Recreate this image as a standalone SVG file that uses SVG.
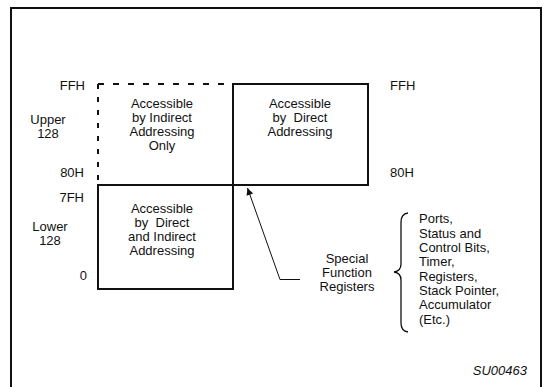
<svg xmlns="http://www.w3.org/2000/svg" width="544" height="387" viewBox="0 0 544 387">
<style>
text{font-family:"Liberation Sans",Arial,sans-serif;font-size:13px;fill:#111}
.c{text-anchor:middle}
.r{text-anchor:end}
.box{fill:none;stroke:#111;stroke-width:2}
.dash{fill:none;stroke:#111;stroke-width:2}
</style>
<defs>
<marker id="ah" viewBox="0 0 10 10" refX="10" refY="5" markerWidth="10" markerHeight="7" markerUnits="userSpaceOnUse" orient="auto">
<path d="M0,0 L10,5 L0,10 z" fill="#111"/>
</marker>
</defs>
<rect x="0" y="0" width="544" height="387" fill="#fff"/>
<rect x="11" y="8" width="530" height="400" fill="none" stroke="#111" stroke-width="2"/>

<g id="upper-indirect">
<path class="dash" d="M98,84 H233" stroke-dasharray="6 9"/>
<path class="dash" d="M98,84 V185" stroke-dasharray="5 8"/>
<text class="c" x="162" y="108">Accessible</text>
<text class="c" x="162" y="122">by Indirect</text>
<text class="c" x="162" y="136">Addressing</text>
<text class="c" x="162" y="150">Only</text>
</g>

<g id="upper-direct">
<rect class="box" x="233" y="84" width="135" height="101"/>
<text class="c" x="300" y="108">Accessible</text>
<text class="c" x="300" y="122" xml:space="preserve">by  Direct</text>
<text class="c" x="300" y="136">Addressing</text>
</g>

<g id="lower">
<rect class="box" x="98" y="185" width="135" height="104"/>
<text class="c" x="162" y="213">Accessible</text>
<text class="c" x="162" y="227" xml:space="preserve">by  Direct</text>
<text class="c" x="162" y="241">and Indirect</text>
<text class="c" x="162" y="255">Addressing</text>
</g>

<g id="left-labels">
<text class="r" x="85" y="90">FFH</text>
<text class="c" x="48" y="124">Upper</text>
<text class="c" x="48" y="138">128</text>
<text class="r" x="84" y="177">80H</text>
<text class="r" x="84" y="202">7FH</text>
<text class="c" x="50" y="231">Lower</text>
<text class="c" x="50" y="245">128</text>
<text class="r" x="87" y="280">0</text>
</g>

<g id="right-labels">
<text x="390" y="90">FFH</text>
<text x="390" y="177">80H</text>
</g>

<g id="sfr">
<text class="c" x="347" y="263">Special</text>
<text class="c" x="347" y="277">Function</text>
<text class="c" x="347" y="291">Registers</text>
</g>

<g id="connectors">
<path d="M300,279.5 H280 L247.5,188" fill="none" stroke="#111" stroke-width="1" marker-end="url(#ah)"/>
<path d="M408,213 Q401,214 401,222 V264 Q401,271 394,272 Q401,273 401,280 V323 Q401,331 408,332" fill="none" stroke="#111" stroke-width="1.3"/>
</g>

<g id="list">
<text x="419" y="223">Ports,</text>
<text x="419" y="237.5">Status and</text>
<text x="419" y="252">Control Bits,</text>
<text x="419" y="266">Timer,</text>
<text x="419" y="280.5">Registers,</text>
<text x="419" y="295">Stack Pointer,</text>
<text x="419" y="309">Accumulator</text>
<text x="419" y="323.5">(Etc.)</text>
</g>

<text class="r" x="527" y="375" font-style="italic">SU00463</text>
</svg>
